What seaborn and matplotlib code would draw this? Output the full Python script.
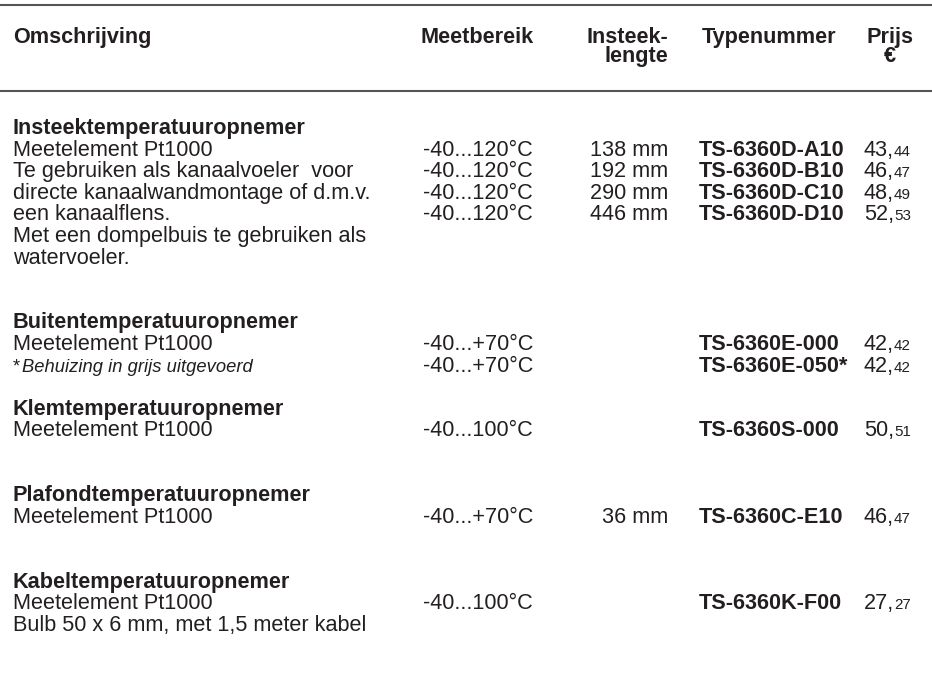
import matplotlib.pyplot as plt
import seaborn as sns

# header
header_desc = 'Omschrijving'
header_range = 'Meetbereik'
header_length = ['Insteek-', 'lengte']
header_type = 'Typenummer'
header_price = ['Prijs', '€']

# one entry per text row of the table ('' = empty line)
descriptions = [
    'Insteektemperatuuropnemer',
    'Meetelement Pt1000',
    'Te gebruiken als kanaalvoeler  voor',
    'directe kanaalwandmontage of d.m.v.',
    'een kanaalflens.',
    'Met een dompelbuis te gebruiken als',
    'watervoeler.',
    '', '',
    'Buitentemperatuuropnemer',
    'Meetelement Pt1000',
    'Behuizing in grijs uitgevoerd',
    '',
    'Klemtemperatuuropnemer',
    'Meetelement Pt1000',
    '', '',
    'Plafondtemperatuuropnemer',
    'Meetelement Pt1000',
    '', '',
    'Kabeltemperatuuropnemer',
    'Meetelement Pt1000',
    'Bulb 50 x 6 mm, met 1,5 meter kabel',
]
row_kind = [
    'title', 'text', 'text', 'text', 'text', 'text', 'text',
    '', '',
    'title', 'text', 'note',
    '',
    'title', 'text',
    '', '',
    'title', 'text',
    '', '',
    'title', 'text', 'text',
]
ranges = [
    '', '-40...120°C', '-40...120°C', '-40...120°C', '-40...120°C', '', '',
    '', '',
    '', '-40...+70°C', '-40...+70°C',
    '',
    '', '-40...100°C',
    '', '',
    '', '-40...+70°C',
    '', '',
    '', '-40...100°C', '',
]
lengths = [
    '', '138 mm', '192 mm', '290 mm', '446 mm', '', '',
    '', '',
    '', '', '',
    '',
    '', '',
    '', '',
    '', '36 mm',
    '', '',
    '', '', '',
]
type_numbers = [
    '', 'TS-6360D-A10', 'TS-6360D-B10', 'TS-6360D-C10', 'TS-6360D-D10', '', '',
    '', '',
    '', 'TS-6360E-000', 'TS-6360E-050*',
    '',
    '', 'TS-6360S-000',
    '', '',
    '', 'TS-6360C-E10',
    '', '',
    '', 'TS-6360K-F00', '',
]
prices = [
    '', '43,44', '46,47', '48,49', '52,53', '', '',
    '', '',
    '', '42,42', '42,42',
    '',
    '', '50,51',
    '', '',
    '', '46,47',
    '', '',
    '', '27,27', '',
]

sns.set_theme(style='white')
plt.rcParams['font.family'] = ['Liberation Sans', 'DejaVu Sans']

W, H = 932, 673
fig = plt.figure(figsize=(W / 100, H / 100), dpi=100)
ax = fig.add_axes([0, 0, 1, 1])
ax.set_xlim(0, W)
ax.set_ylim(H, 0)
ax.axis('off')

ink = '#231f20'
fs = 15.6          # points, ~21.7 px
fs_small = fs * 0.7
fs_note = fs * 0.85

x_desc, x_range, x_len, x_type, x_price = 13, 533, 668, 699, 864

# rules
for y in (5, 91):
    ax.plot([0, W], [y, y], color='#555555', lw=1.5, solid_capstyle='butt')

# header
hy0, hy1 = 43, 62
ax.text(x_desc, hy0, header_desc, fontsize=fs, fontweight='bold', color=ink, va='baseline')
ax.text(420, hy0, header_range, fontsize=fs, fontweight='bold', color=ink, va='baseline')
ax.text(x_len, hy0, header_length[0], fontsize=fs, fontweight='bold', color=ink, va='baseline', ha='right')
ax.text(x_len, hy1, header_length[1], fontsize=fs, fontweight='bold', color=ink, va='baseline', ha='right')
ax.text(x_type + 3, hy0, header_type, fontsize=fs, fontweight='bold', color=ink, va='baseline')
ax.text(866, hy0, header_price[0], fontsize=fs, fontweight='bold', color=ink, va='baseline')
ax.text(890, hy1, header_price[1], fontsize=fs, fontweight='bold', color=ink, va='baseline', ha='center')

# body
y_first, step = 134, 21.6
for i, desc in enumerate(descriptions):
    y = y_first + i * step
    kind = row_kind[i]
    if kind == 'title':
        ax.text(x_desc, y, desc, fontsize=fs, fontweight='bold', color=ink, va='baseline')
    elif kind == 'note':
        ax.text(x_desc, y, '*', fontsize=fs_note, color=ink, va='baseline')
        ax.text(x_desc + 9, y, desc, fontsize=fs_note, fontstyle='italic', color=ink, va='baseline')
    elif kind == 'text':
        ax.text(x_desc, y, desc, fontsize=fs, color=ink, va='baseline')

    if ranges[i]:
        ax.text(x_range, y, ranges[i], fontsize=fs, color=ink, va='baseline', ha='right')
    if lengths[i]:
        ax.text(x_len, y, lengths[i], fontsize=fs, color=ink, va='baseline', ha='right')
    if type_numbers[i]:
        ax.text(x_type, y, type_numbers[i], fontsize=fs, fontweight='bold', color=ink, va='baseline')
    if prices[i]:
        euros, cents = prices[i].split(',')
        t = ax.text(x_price, y, euros + ',', fontsize=fs, color=ink, va='baseline')
        ax.annotate(cents, xy=(1, y), xycoords=(t, 'data'), fontsize=fs_small,
                    color=ink, va='baseline', ha='left')

fig.savefig('out.png', dpi=100)
